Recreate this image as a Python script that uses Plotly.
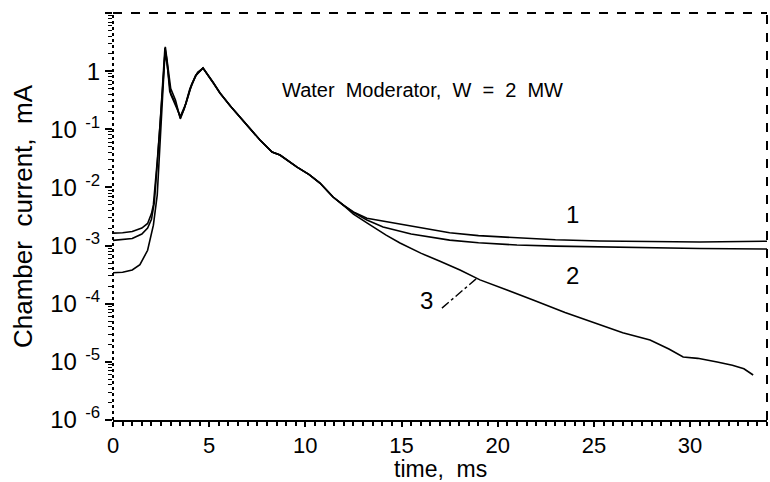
import math
import plotly.graph_objects as go

# ---- data ----
rise1_t = [0, 0.5, 1.0, 1.5, 1.8, 2.0, 2.1, 2.2, 2.3, 2.45, 2.6, 2.7, 2.8, 2.95, 3.1, 3.3, 3.5, 3.7, 4.0, 4.3]
rise1_y = [1.64e-3, 1.66e-3, 1.74e-3, 2.0e-3, 2.4e-3, 3.55e-3, 5.0e-3, 0.0112, 0.0282, 0.126, 0.794, 2.51, 1.58,
           0.447, 0.355, 0.251, 0.158, 0.224, 0.501, 0.851]

rise2_t = [0, 0.5, 1.0, 1.5, 1.8, 2.0, 2.15, 2.3, 2.45, 2.6, 2.7, 2.8, 3.0, 3.2, 3.5, 3.8, 4.1, 4.4]
rise2_y = [1.23e-3, 1.26e-3, 1.32e-3, 1.58e-3, 2.0e-3, 2.82e-3, 5.6e-3, 0.0251, 0.112, 0.631, 2.0, 1.41, 0.398,
           0.282, 0.166, 0.282, 0.603, 0.955]

rise3_t = [0, 0.5, 1.0, 1.4, 1.8, 2.1, 2.3, 2.45, 2.6, 2.72, 2.85, 3.0, 3.25, 3.5, 3.75, 4.0, 4.3]
rise3_y = [3.4e-4, 3.47e-4, 3.8e-4, 4.68e-4, 8.3e-4, 2.24e-3, 7.4e-3, 0.0501, 0.501, 2.63, 1.26, 0.501, 0.316,
           0.151, 0.251, 0.479, 0.832]

decay_t = [4.68, 5.2, 5.56, 6.1, 6.6, 7.1, 7.64, 8.27, 8.68, 9.57, 10.2, 10.76, 11.44, 11.96]
decay_y = [1.13, 0.646, 0.421, 0.251, 0.163, 0.102, 0.0655, 0.0406, 0.0361, 0.0224, 0.0166, 0.0119, 0.00684, 0.00499]

tail1_t = [12.5, 13.2, 14.4, 15.5, 17.5, 19.0, 21.0, 23.0, 25.3, 28.0, 30.5, 34.0]
tail1_y = [0.0038, 0.00295, 0.00251, 0.00214, 0.00166, 0.00148, 0.00135, 0.00126, 0.00120, 0.00116, 0.00115, 0.00119]

tail2_t = [12.5, 13.2, 14.04, 15.5, 17.5, 19.0, 21.0, 23.0, 25.3, 28.0, 30.5, 34.0]
tail2_y = [0.00372, 0.00275, 0.00209, 0.00158, 0.00124, 0.00112, 0.00102, 0.000977, 0.000944, 0.000912,
           0.000891, 0.000871]

tail3_t = [12.5, 13.2, 14.2, 14.92, 16.0, 17.0, 18.04, 19.08, 20.3, 21.84, 23.5, 25.32, 26.5, 27.92, 28.9,
           29.64, 30.4, 31.41, 32.2, 32.8, 33.28]
tail3_y = [0.00347, 0.00245, 0.00151, 0.00111, 0.000741, 0.000537, 0.00038, 0.000257, 0.000182, 0.000116,
           7.08e-5, 4.31e-5, 3.16e-5, 2.38e-5, 1.66e-5, 1.21e-5, 1.15e-5, 9.93e-6, 8.71e-6, 7.59e-6, 5.94e-6]

curve_labels = ["1", "2", "3"]
label_t = [23.9, 23.9, 16.3]
label_y = [3.4e-3, 3.1e-4, 1.15e-4]
pointer_t = [17.1, 18.93]
pointer_y = [8.4e-5, 2.77e-4]

ytick_vals = [10, 1, 0.1, 0.01, 1e-3, 1e-4, 1e-5, 1e-6]
ytick_text = ["10", "1", "10<sup>\u2002-1</sup>", "10<sup>\u2002-2</sup>", "10<sup>\u2002-3</sup>",
              "10<sup>\u2002-4</sup>", "10<sup>\u2002-5</sup>", "10<sup>\u2002-6</sup>"]
xtick_vals = [0, 5, 10, 15, 20, 25, 30]

title_text = "Water  Moderator,  W  =  2  MW"
title_t = 8.7
title_y = 0.47

FONT = "Arial, Liberation Sans, sans-serif"

fig = go.Figure()
series = [
    (rise1_t + decay_t + tail1_t, rise1_y + decay_y + tail1_y),
    (rise2_t + decay_t + tail2_t, rise2_y + decay_y + tail2_y),
    (rise3_t + decay_t + tail3_t, rise3_y + decay_y + tail3_y),
]
for t, y in series:
    fig.add_trace(go.Scatter(x=t, y=y, mode="lines", line=dict(color="black", width=1.6),
                             showlegend=False, hoverinfo="skip"))

# pointer for curve 3
fig.add_trace(go.Scatter(x=pointer_t, y=pointer_y, mode="lines",
                         line=dict(color="black", width=1.4, dash="dashdot"),
                         showlegend=False, hoverinfo="skip"))

for lab, lt, ly in zip(curve_labels, label_t, label_y):
    fig.add_annotation(x=lt, y=math.log10(ly), text=lab, showarrow=False,
                       font=dict(family=FONT, size=24, color="black"))

fig.add_annotation(x=title_t, y=math.log10(title_y), text=title_text, showarrow=False,
                   xanchor="left", font=dict(family=FONT, size=20, color="black"))

# x-axis title placed under the tick labels
fig.add_annotation(xref="paper", yref="paper", x=0.5, y=-0.121, yanchor="middle",
                   text="time,  ms", showarrow=False, font=dict(family=FONT, size=23, color="black"))

# frame: dashed top/right, dotted left
fig.add_shape(type="line", xref="paper", yref="paper", x0=0, x1=1, y0=1, y1=1,
              line=dict(color="black", width=2, dash="dash"))
fig.add_shape(type="line", xref="paper", yref="paper", x0=1, x1=1, y0=0, y1=1,
              line=dict(color="black", width=2, dash="dash"))
fig.add_shape(type="line", xref="paper", yref="paper", x0=0, x1=0, y0=0, y1=1,
              line=dict(color="black", width=2, dash="dot"))

minor_y = [k * 10.0 ** e for e in range(-6, 1) for k in range(2, 10)]

fig.update_layout(
    width=770, height=482,
    margin=dict(l=113, r=3, t=13, b=62),
    paper_bgcolor="white", plot_bgcolor="white",
    font=dict(family=FONT, color="black"),
    xaxis=dict(range=[0, 34], tickvals=xtick_vals, ticks="outside", ticklen=5, tickwidth=2,
               tickcolor="black", showline=True, linecolor="black", linewidth=2, showgrid=False,
               zeroline=False, tickfont=dict(size=22), automargin=False,
               minor=dict(ticks="outside", ticklen=4, tickwidth=1.5, tickcolor="black", dtick=0.5,
                          showgrid=False)),
    yaxis=dict(type="log", range=[-6, 1], tickvals=ytick_vals, ticktext=ytick_text, ticks="outside",
               ticklen=7, tickwidth=2, tickcolor="black", showline=False, showgrid=False,
               zeroline=False, tickfont=dict(size=24), automargin=False,
               minor=dict(tickvals=minor_y, ticks="outside", ticklen=4, tickwidth=1,
                          tickcolor="black", showgrid=False),
               title=dict(text="Chamber  current,  mA", font=dict(size=26), standoff=10)),
)

fig.write_html("out.html", config={"displayModeBar": False},
               post_script="document.body.style.margin='0';document.body.style.overflow='hidden';")
